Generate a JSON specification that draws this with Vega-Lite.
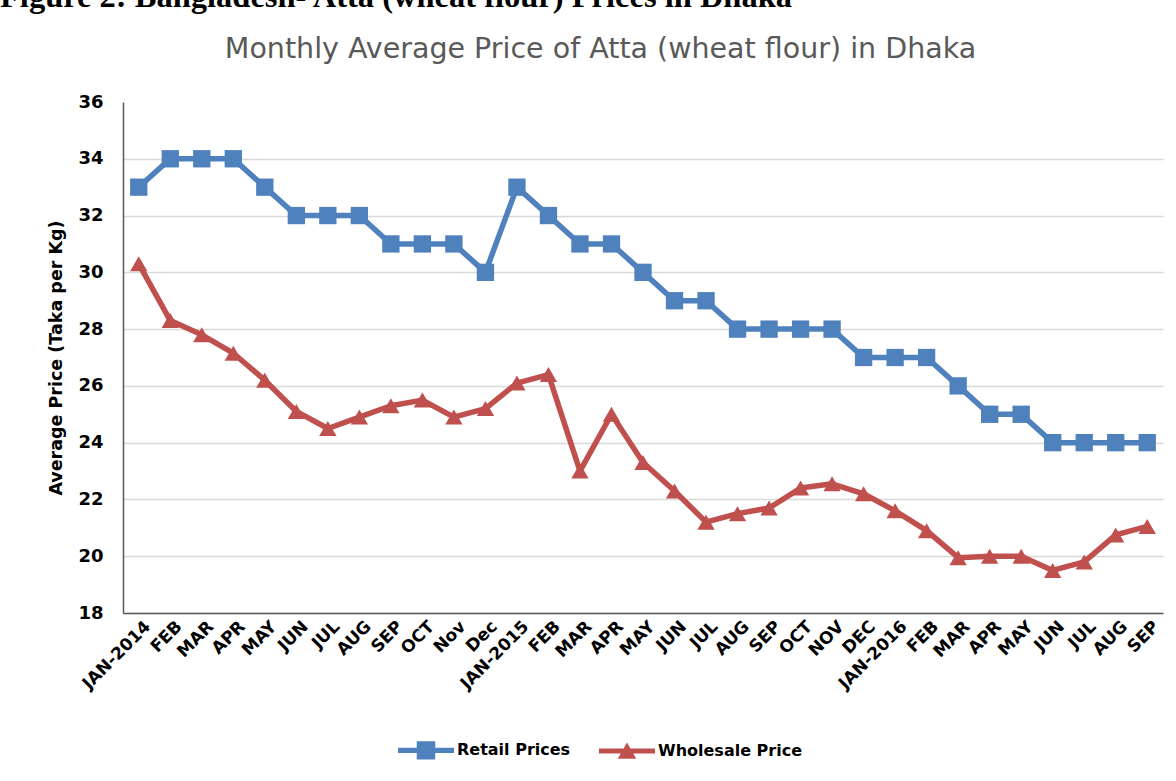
{
  "$schema": "https://vega.github.io/schema/vega-lite/v6.json",
  "autosize": "none",
  "width": 1040,
  "height": 511,
  "padding": {"left": 123, "top": 102, "right": 13, "bottom": 168},
  "background": "white",
  "title": {
    "text": "Figure 2: Bangladesh- Atta (wheat flour) Prices in Dhaka",
    "anchor": "start",
    "frame": "group",
    "dx": -123,
    "offset": 21,
    "font": "Liberation Serif",
    "fontSize": 32.5,
    "fontWeight": "bold",
    "color": "black"
  },
  "config": {"view": {"stroke": null}},
  "data": {
    "values": [
      {"i": 0, "month": "JAN-2014", "series": "Retail Prices", "price": 33},
      {"i": 1, "month": "FEB", "series": "Retail Prices", "price": 34},
      {"i": 2, "month": "MAR", "series": "Retail Prices", "price": 34},
      {"i": 3, "month": "APR", "series": "Retail Prices", "price": 34},
      {"i": 4, "month": "MAY", "series": "Retail Prices", "price": 33},
      {"i": 5, "month": "JUN", "series": "Retail Prices", "price": 32},
      {"i": 6, "month": "JUL", "series": "Retail Prices", "price": 32},
      {"i": 7, "month": "AUG", "series": "Retail Prices", "price": 32},
      {"i": 8, "month": "SEP", "series": "Retail Prices", "price": 31},
      {"i": 9, "month": "OCT", "series": "Retail Prices", "price": 31},
      {"i": 10, "month": "Nov", "series": "Retail Prices", "price": 31},
      {"i": 11, "month": "Dec", "series": "Retail Prices", "price": 30},
      {"i": 12, "month": "JAN-2015", "series": "Retail Prices", "price": 33},
      {"i": 13, "month": "FEB", "series": "Retail Prices", "price": 32},
      {"i": 14, "month": "MAR", "series": "Retail Prices", "price": 31},
      {"i": 15, "month": "APR", "series": "Retail Prices", "price": 31},
      {"i": 16, "month": "MAY", "series": "Retail Prices", "price": 30},
      {"i": 17, "month": "JUN", "series": "Retail Prices", "price": 29},
      {"i": 18, "month": "JUL", "series": "Retail Prices", "price": 29},
      {"i": 19, "month": "AUG", "series": "Retail Prices", "price": 28},
      {"i": 20, "month": "SEP", "series": "Retail Prices", "price": 28},
      {"i": 21, "month": "OCT", "series": "Retail Prices", "price": 28},
      {"i": 22, "month": "NOV", "series": "Retail Prices", "price": 28},
      {"i": 23, "month": "DEC", "series": "Retail Prices", "price": 27},
      {"i": 24, "month": "JAN-2016", "series": "Retail Prices", "price": 27},
      {"i": 25, "month": "FEB", "series": "Retail Prices", "price": 27},
      {"i": 26, "month": "MAR", "series": "Retail Prices", "price": 26},
      {"i": 27, "month": "APR", "series": "Retail Prices", "price": 25},
      {"i": 28, "month": "MAY", "series": "Retail Prices", "price": 25},
      {"i": 29, "month": "JUN", "series": "Retail Prices", "price": 24},
      {"i": 30, "month": "JUL", "series": "Retail Prices", "price": 24},
      {"i": 31, "month": "AUG", "series": "Retail Prices", "price": 24},
      {"i": 32, "month": "SEP", "series": "Retail Prices", "price": 24},
      {"i": 0, "month": "JAN-2014", "series": "Wholesale Price", "price": 30.3},
      {"i": 1, "month": "FEB", "series": "Wholesale Price", "price": 28.3},
      {"i": 2, "month": "MAR", "series": "Wholesale Price", "price": 27.8},
      {"i": 3, "month": "APR", "series": "Wholesale Price", "price": 27.15},
      {"i": 4, "month": "MAY", "series": "Wholesale Price", "price": 26.2},
      {"i": 5, "month": "JUN", "series": "Wholesale Price", "price": 25.1},
      {"i": 6, "month": "JUL", "series": "Wholesale Price", "price": 24.5},
      {"i": 7, "month": "AUG", "series": "Wholesale Price", "price": 24.9},
      {"i": 8, "month": "SEP", "series": "Wholesale Price", "price": 25.3},
      {"i": 9, "month": "OCT", "series": "Wholesale Price", "price": 25.5},
      {"i": 10, "month": "Nov", "series": "Wholesale Price", "price": 24.9},
      {"i": 11, "month": "Dec", "series": "Wholesale Price", "price": 25.2},
      {"i": 12, "month": "JAN-2015", "series": "Wholesale Price", "price": 26.1},
      {"i": 13, "month": "FEB", "series": "Wholesale Price", "price": 26.4},
      {"i": 14, "month": "MAR", "series": "Wholesale Price", "price": 23.0},
      {"i": 15, "month": "APR", "series": "Wholesale Price", "price": 25.0},
      {"i": 16, "month": "MAY", "series": "Wholesale Price", "price": 23.3},
      {"i": 17, "month": "JUN", "series": "Wholesale Price", "price": 22.3},
      {"i": 18, "month": "JUL", "series": "Wholesale Price", "price": 21.2},
      {"i": 19, "month": "AUG", "series": "Wholesale Price", "price": 21.5},
      {"i": 20, "month": "SEP", "series": "Wholesale Price", "price": 21.7},
      {"i": 21, "month": "OCT", "series": "Wholesale Price", "price": 22.4},
      {"i": 22, "month": "NOV", "series": "Wholesale Price", "price": 22.55},
      {"i": 23, "month": "DEC", "series": "Wholesale Price", "price": 22.2},
      {"i": 24, "month": "JAN-2016", "series": "Wholesale Price", "price": 21.6},
      {"i": 25, "month": "FEB", "series": "Wholesale Price", "price": 20.9},
      {"i": 26, "month": "MAR", "series": "Wholesale Price", "price": 19.95},
      {"i": 27, "month": "APR", "series": "Wholesale Price", "price": 20.0},
      {"i": 28, "month": "MAY", "series": "Wholesale Price", "price": 20.0},
      {"i": 29, "month": "JUN", "series": "Wholesale Price", "price": 19.5},
      {"i": 30, "month": "JUL", "series": "Wholesale Price", "price": 19.8},
      {"i": 31, "month": "AUG", "series": "Wholesale Price", "price": 20.75},
      {"i": 32, "month": "SEP", "series": "Wholesale Price", "price": 21.05}
    ]
  },
  "layer": [
    {
      "mark": {"type": "line", "strokeWidth": 5.5, "strokeJoin": "round", "strokeCap": "round"},
      "encoding": {
        "x": {
          "field": "i",
          "type": "ordinal",
          "axis": {
            "orient": "bottom",
            "title": null,
            "labelExpr": "['JAN-2014','FEB','MAR','APR','MAY','JUN','JUL','AUG','SEP','OCT','Nov','Dec','JAN-2015','FEB','MAR','APR','MAY','JUN','JUL','AUG','SEP','OCT','NOV','DEC','JAN-2016','FEB','MAR','APR','MAY','JUN','JUL','AUG','SEP'][datum.value]",
            "labelAngle": -45,
            "labelAlign": "right",
            "labelBaseline": "top",
            "labelPadding": 5,
            "labelOffset": 3,
            "labelFont": "DejaVu Sans",
            "labelFontSize": 17,
            "labelFontWeight": "bold",
            "labelColor": "black",
            "labelOverlap": false,
            "ticks": false,
            "grid": false,
            "domainColor": "#595959",
            "domainWidth": 1.5
          }
        },
        "y": {
          "field": "price",
          "type": "quantitative",
          "scale": {"domain": [18, 36], "nice": false, "zero": false},
          "axis": {
            "title": "Average Price (Taka per Kg)",
            "titleFont": "DejaVu Sans",
            "titleFontSize": 17.5,
            "titleFontWeight": "bold",
            "titleColor": "black",
            "titlePadding": 12,
            "values": [18, 20, 22, 24, 26, 28, 30, 32, 34, 36],
            "labelFont": "DejaVu Sans",
            "labelFontSize": 18,
            "labelFontWeight": "bold",
            "labelColor": "black",
            "labelPadding": 20,
            "ticks": false,
            "domainColor": "#595959",
            "domainWidth": 1.5,
            "gridColor": "#d9d9d9",
            "gridOpacity": {"condition": {"test": "datum.value === 36", "value": 0}, "value": 1},
            "gridWidth": 1.3
          }
        },
        "color": {
          "field": "series",
          "type": "nominal",
          "scale": {"domain": ["Retail Prices", "Wholesale Price"], "range": ["#4F81BD", "#C0504D"]},
          "legend": {
            "orient": "none",
            "legendX": 275,
            "legendY": 620,
            "direction": "horizontal",
            "title": null,
            "labelFont": "DejaVu Sans",
            "labelFontSize": 16,
            "labelFontWeight": "bold",
            "labelColor": "black",
            "labelOffset": 3,
            "columnPadding": 28,
            "symbolSize": 3136,
            "symbolStrokeWidth": 0,
            "encode": {
              "symbols": {
                "update": {
                  "shape": {"signal": "datum.value === 'Retail Prices' ? 'M-1,-0.09H1V0.09H-1Z M-0.33,-0.33H0.33V0.33H-0.33Z' : 'M-1,-0.09H1V0.09H-1Z M-0.33,0.28L0,-0.3L0.33,0.28Z'"},
                  "fill": {"signal": "datum.value === 'Retail Prices' ? '#4F81BD' : '#C0504D'"},
                  "fillOpacity": {"value": 1},
                  "stroke": {"value": "transparent"},
                  "strokeWidth": {"value": 0},
                  "opacity": {"value": 1},
                  "size": {"value": 3136}
                }
              }
            }
          }
        }
      }
    },
    {
      "transform": [{"filter": "datum.series === 'Retail Prices'"}],
      "mark": {"type": "point", "shape": "square", "filled": true, "opacity": 1, "size": 300, "strokeWidth": 2, "strokeJoin": "round"},
      "encoding": {
        "x": {
          "field": "i",
          "type": "ordinal",
          "axis": {
            "orient": "top",
            "title": "Monthly Average Price of Atta (wheat flour) in Dhaka",
            "labels": false,
            "ticks": false,
            "domain": false,
            "grid": false,
            "titleFont": "DejaVu Sans",
            "titleFontSize": 28.5,
            "titleFontWeight": "normal",
            "titleColor": "#595959",
            "titleX": 477,
            "titleY": -45,
            "titleAlign": "center",
            "titleBaseline": "alphabetic"
          }
        },
        "y": {"field": "price", "type": "quantitative"},
        "color": {"field": "series", "type": "nominal"}
      }
    },
    {
      "transform": [{"filter": "datum.series === 'Wholesale Price'"}],
      "mark": {"type": "point", "shape": "triangle-up", "filled": true, "opacity": 1, "size": 300, "strokeWidth": 2, "strokeJoin": "round"},
      "encoding": {
        "x": {"field": "i", "type": "ordinal", "axis": null},
        "y": {"field": "price", "type": "quantitative"},
        "color": {"field": "series", "type": "nominal"}
      }
    }
  ],
  "resolve": {"axis": {"x": "independent"}}
}
